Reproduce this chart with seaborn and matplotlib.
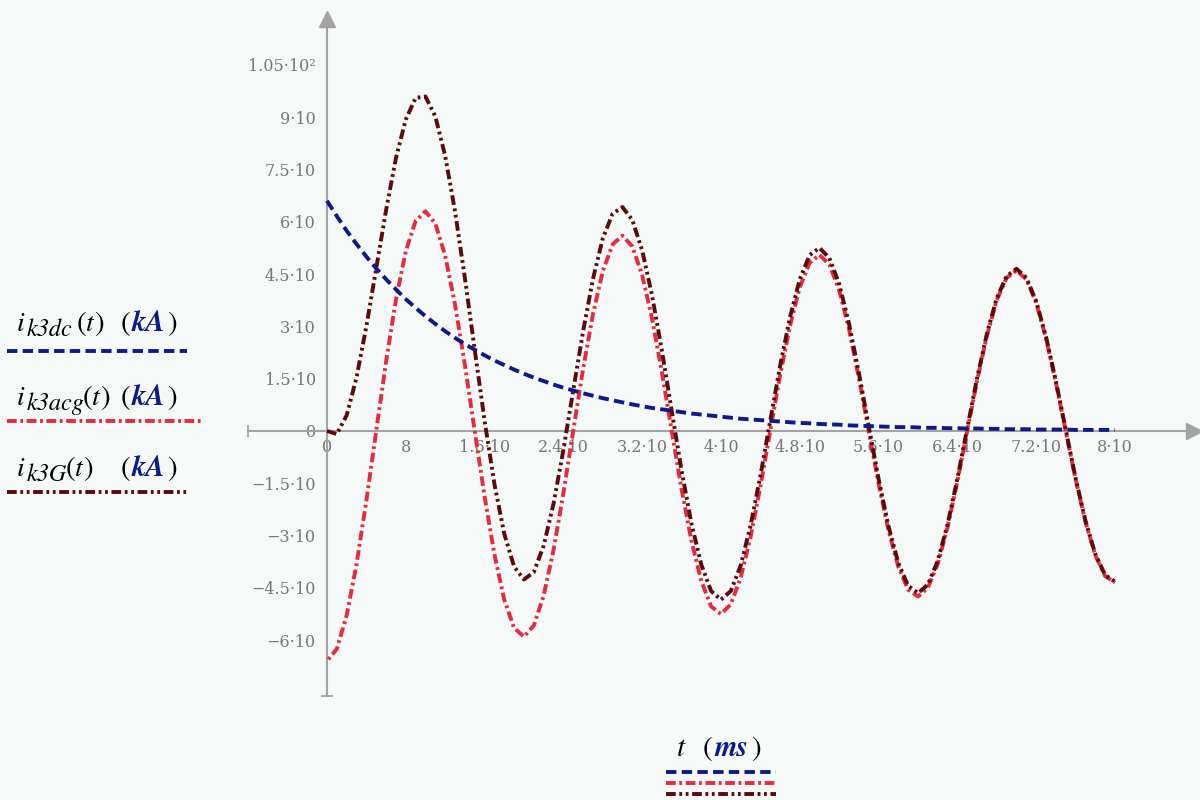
import numpy as np
import pandas as pd
import seaborn as sns
import matplotlib.pyplot as plt
from matplotlib.lines import Line2D

# time axis, ms (one sample per ms)
t_ms = list(range(0, 81))

# i_k3dc(t), kA - decaying dc component
i_dc = [66.0, 61.6, 57.4, 53.6, 50.0, 46.6, 43.5, 40.6, 37.8, 35.3,
        32.9, 30.7, 28.6, 26.7, 24.9, 23.3, 21.7, 20.2, 18.9, 17.6,
        16.4, 15.3, 14.3, 13.3, 12.4, 11.6, 10.8, 10.1, 9.4, 8.8,
        8.2, 7.6, 7.1, 6.6, 6.2, 5.8, 5.4, 5.0, 4.7, 4.4,
        4.1, 3.8, 3.5, 3.3, 3.1, 2.9, 2.7, 2.5, 2.3, 2.2,
        2.0, 1.9, 1.8, 1.6, 1.5, 1.4, 1.3, 1.2, 1.1, 1.1,
        1.0, 0.9, 0.9, 0.8, 0.8, 0.7, 0.7, 0.6, 0.6, 0.5,
        0.5, 0.5, 0.4, 0.4, 0.4, 0.4, 0.3, 0.3, 0.3, 0.3, 0.3]

# i_k3acg(t), kA - ac component
i_ac = [-66.0, -62.5, -52.9, -38.3, -20.0, 0.0, 19.8, 37.6, 51.5, 60.2,
        63.0, 59.5, 50.3, 36.3, 19.0, 0.0, -18.7, -35.4, -48.4, -56.5,
        -59.0, -55.8, -47.2, -34.2, -17.9, 0.0, 17.7, 33.4, 45.8, 53.5,
        56.0, 52.9, 44.7, 32.3, 16.9, 0.0, -16.7, -31.5, -43.0, -50.3,
        -52.5, -49.7, -42.1, -30.5, -16.0, 0.0, 15.9, 30.0, 41.2, 48.2,
        50.5, 47.7, 40.4, 29.2, 15.2, 0.0, -15.0, -28.4, -38.9, -45.5,
        -47.5, -45.0, -38.2, -27.7, -14.5, 0.0, 14.4, 27.3, 37.5, 43.9,
        46.0, 43.5, 36.8, 26.6, 13.9, 0.0, -13.8, -26.0, -35.6, -41.6, -43.5]

# i_k3G(t), kA - total current
i_g = [0.0, -0.9, 4.5, 15.3, 30.0, 46.6, 63.3, 78.2, 89.3, 95.5,
       95.9, 90.2, 78.9, 63.0, 43.9, 23.3, 3.0, -15.2, -29.5, -38.9,
       -42.6, -40.5, -32.9, -20.9, -5.5, 11.6, 28.5, 43.5, 55.2, 62.3,
       64.2, 60.5, 51.8, 38.9, 23.1, 5.8, -11.3, -26.5, -38.3, -45.9,
       -48.4, -45.9, -38.6, -27.2, -12.9, 2.9, 18.6, 32.5, 43.5, 50.4,
       52.5, 49.6, 42.2, 30.8, 16.7, 1.4, -13.7, -27.2, -37.8, -44.4,
       -46.5, -44.1, -37.3, -26.9, -13.7, 0.7, 15.1, 27.9, 38.1, 44.4,
       46.5, 44.0, 37.2, 27.0, 14.3, 0.4, -13.5, -25.7, -35.3, -41.3, -43.2]

x_ticks = [0, 8, 16, 24, 32, 40, 48, 56, 64, 72, 80]
x_labels = ["0", "8", "1.6·10", "2.4·10", "3.2·10", "4·10", "4.8·10",
            "5.6·10", "6.4·10", "7.2·10", "8·10"]
y_ticks = [105, 90, 75, 60, 45, 30, 15, 0, -15, -30, -45, -60]
y_labels = ["1.05·10²", "9·10", "7.5·10", "6·10", "4.5·10", "3·10", "1.5·10",
            "0", "−1.5·10", "−3·10", "−4.5·10", "−6·10"]

BG = "#f5f9f7"
AXC = "#a3a3a3"
C_DC = "#0f1a88"
C_AC = "#e62a42"
C_G = "#5c0a0e"
NAVY = "#0d1a8a"
LS_DC = (0, (7.5, 3.8))
LS_AC = (0, (7.0, 2.6, 2.0, 2.6))
LS_G = (0, (7.0, 2.6, 2.0, 2.6, 2.0, 2.6))
LW = 2.8

sns.set_theme(style="white", rc={"figure.facecolor": BG, "axes.facecolor": BG,
                                  "lines.scale_dashes": False})
plt.rcParams["font.family"] = ["DejaVu Serif"]

fig = plt.figure(figsize=(12, 8), dpi=100)
ax = fig.add_axes([0.2068, 0.13, 0.788, 0.8457])

df = pd.DataFrame({"t": t_ms, "dc": i_dc, "ac": i_ac, "g": i_g})
sns.lineplot(data=df, x="t", y="ac", ax=ax, color=C_AC, linewidth=LW,
             linestyle=(8.0, LS_AC[1]), zorder=3)
sns.lineplot(data=df, x="t", y="g", ax=ax, color=C_G, linewidth=LW,
             linestyle=LS_G, zorder=4)
sns.lineplot(data=df, x="t", y="dc", ax=ax, color=C_DC, linewidth=LW,
             linestyle=LS_DC, zorder=5)

ax.set_xlim(-8, 88)
ax.set_ylim(-76, 118)
ax.set_xlabel("")
ax.set_ylabel("")

for s in ["top", "right"]:
    ax.spines[s].set_visible(False)
for s in ["left", "bottom"]:
    ax.spines[s].set_position(("data", 0))
    ax.spines[s].set_color(AXC)
    ax.spines[s].set_linewidth(1.5)

# axis arrows and end marks
ax.plot([88], [0], marker=">", ms=11, color=AXC, clip_on=False, zorder=1)
ax.plot([0], [118], marker="^", ms=11, color=AXC, clip_on=False, zorder=1)
ax.plot([-8], [0], marker="|", ms=9, mew=1.3, color=AXC, clip_on=False)
ax.plot([0], [-76], marker="_", ms=9, mew=1.3, color=AXC, clip_on=False)

ax.set_xticks(x_ticks)
ax.set_xticklabels(x_labels)
ax.set_yticks(y_ticks)
ax.set_yticklabels(y_labels)
ax.tick_params(axis="x", direction="in", length=6, width=1.2, color=AXC,
               labelsize=11.5, labelcolor="#777777", pad=6)
ax.tick_params(axis="y", direction="out", length=6, width=1.2, color=AXC,
               labelsize=11.5, labelcolor="#777777", pad=2)


def fx(x):
    return x / 1200


def fy(y):
    return 1 - y / 800


def put(x, base, s, size=20, italic=False, bold=False, color="black"):
    fig.text(fx(x), fy(base), s, fontsize=size, va="baseline", ha="left",
             family="STIXGeneral", style="italic" if italic else "normal",
             weight="bold" if bold else "normal", color=color)


def legend_line(x1, x2, y, color, ls):
    fig.add_artist(Line2D([fx(x1), fx(x2)], [fy(y), fy(y)], transform=fig.transFigure,
                          color=color, linewidth=LW, linestyle=ls))


# left legend: name, baseline, paren x, t x, close paren x, line y, line end, colour, style
rows = [("k3dc", 331, 77, 86, 94, 351, 187, C_DC, LS_DC),
        ("k3acg", 405, 83, 92, 100, 421, 203, C_AC, LS_AC),
        ("k3G", 476, 66, 75, 83, 492, 187, C_G, LS_G)]
for sub, base, xp, xt, xq, ly, lx2, col, ls in rows:
    put(17, base, "i", italic=True)
    put(27, base + 5, sub, size=17.5, italic=True)
    put(xp, base, "(", size=21)
    put(xt, base, "t", italic=True)
    put(xq, base, ")", size=21)
    put(121, base, "(", size=21)
    put(132, base, "kA", size=21, italic=True, bold=True, color=NAVY)
    put(167, base, ")", size=21)
    legend_line(7, lx2, ly, col, ls)

# x axis title
put(677, 756, "t", size=21, italic=True)
put(703, 756, "(", size=21)
put(714, 756, "ms", size=21, italic=True, bold=True, color=NAVY)
put(751, 756, ")", size=21)
legend_line(666, 776, 772, C_DC, LS_DC)
legend_line(666, 776, 783, C_AC, LS_AC)
legend_line(666, 776, 794, C_G, LS_G)

fig.savefig("out.png", dpi=100, facecolor=BG)
